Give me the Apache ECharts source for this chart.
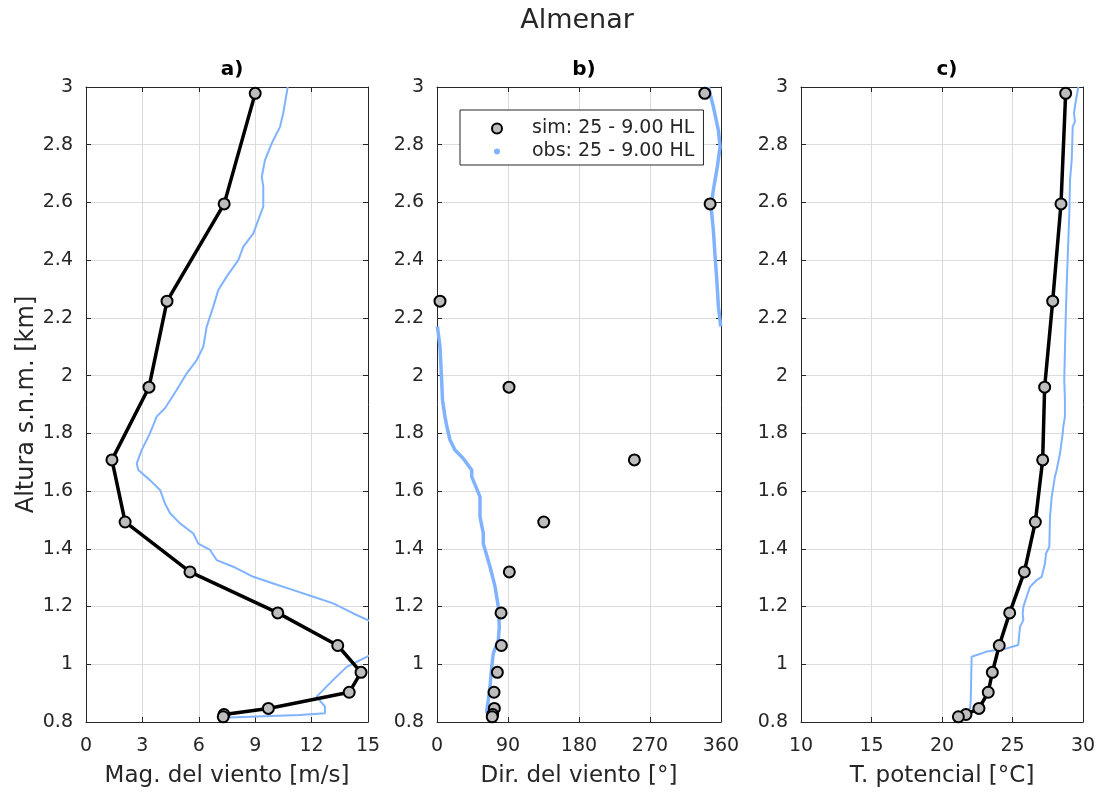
<!DOCTYPE html>
<html>
<head>
<meta charset="utf-8">
<title>Almenar</title>
<script src="https://cdn.jsdelivr.net/npm/echarts@6/dist/echarts.min.js"></script>
<style>
  html, body { margin: 0; padding: 0; background: #fff; }
  #chart { width: 1100px; height: 793px; }
</style>
</head>
<body>
<div id="chart"></div>
<script>
// Simulated profile (model levels, km a.s.l.)
const simHeight = [2.978, 2.595, 2.258, 1.96, 1.708, 1.493, 1.32, 1.178, 1.065, 0.972, 0.903, 0.847, 0.826, 0.818];
const simSpeed  = [9.0, 7.35, 4.31, 3.35, 1.38, 2.08, 5.53, 10.2, 13.39, 14.63, 14.0, 9.7, 7.34, 7.3];
const simDir    = [339.4, 346.2, 3.8, 91.3, 250.2, 135.3, 91.7, 81.2, 81.6, 76.5, 72.3, 72.7, 70.6, 70.0];
const simTheta  = [28.77, 28.44, 27.85, 27.28, 27.14, 26.62, 25.84, 24.8, 24.06, 23.57, 23.28, 22.62, 21.7, 21.16];

// Observed sounding: wind speed
const obsSpeedHeight = [3.0, 2.909, 2.862, 2.805, 2.747, 2.689, 2.655, 2.586, 2.539, 2.493, 2.447, 2.40, 2.343, 2.297,
  2.239, 2.17, 2.10, 2.054, 2.008, 1.95, 1.887, 1.858, 1.80, 1.742, 1.696, 1.673, 1.638, 1.604, 1.557, 1.523, 1.488,
  1.453, 1.418, 1.396, 1.361, 1.338, 1.303, 1.28, 1.257, 1.234, 1.211, 1.176, 1.151, 1.12, 1.08, 1.045, 1.026, 0.991,
  0.946, 0.888, 0.853, 0.830, 0.824, 0.818, 0.816];
const obsSpeed = [10.73, 10.49, 10.32, 9.88, 9.52, 9.35, 9.43, 9.43, 9.16, 8.90, 8.37, 8.10, 7.48, 7.04,
  6.77, 6.42, 6.24, 5.89, 5.36, 4.82, 4.20, 3.76, 3.40, 2.96, 2.70, 2.78, 3.40, 3.94, 4.20, 4.47, 5.0,
  5.71, 5.97, 6.60, 6.95, 7.83, 8.90, 9.96, 11.03, 12.09, 13.15, 14.22, 15.05, 15.8, 16.0, 15.5, 14.93, 13.87,
  13.15, 12.27, 12.71, 12.71, 11.38, 8.72, 7.66];

// Observed sounding: wind direction (split where it wraps through north)
const obsDirUpperHeight = [3.0, 2.932, 2.85, 2.793, 2.724, 2.643, 2.586, 2.505, 2.412, 2.331, 2.239, 2.17];
const obsDirUpper       = [344, 350.3, 356.7, 358.8, 355.4, 350.3, 347.4, 350.3, 352.5, 354.7, 356.7, 359.7];
const obsDirLowerHeight = [2.17, 2.10, 2.008, 1.915, 1.858, 1.823, 1.777, 1.742, 1.713, 1.673, 1.65, 1.58, 1.511,
  1.453, 1.418, 1.338, 1.27, 1.199, 1.13, 1.084, 1.038, 0.992, 0.922, 0.876, 0.836, 0.824];
const obsDirLower       = [0.5, 3.8, 5.5, 7.0, 10.1, 12.5, 16.5, 22.8, 33.3, 44, 44, 54.5, 54.5,
  58.7, 58.7, 67.2, 73.5, 77.7, 79, 77.7, 71.4, 69.4, 67.2, 65, 63, 65];

// Observed sounding: potential temperature
const obsThetaHeight = [3.0, 2.955, 2.909, 2.88, 2.862, 2.747, 2.678, 2.562, 2.47, 2.308, 2.193, 2.089, 1.985, 1.915,
  1.858, 1.823, 1.80, 1.731, 1.673, 1.65, 1.58, 1.511, 1.407, 1.384, 1.349, 1.303, 1.292, 1.268, 1.234, 1.199,
  1.176, 1.153, 1.13, 1.067, 1.055, 1.044, 1.026, 0.876, 0.847, 0.818];
const obsTheta = [29.67, 29.5, 29.36, 29.43, 29.27, 29.2, 29.08, 29.03, 28.96, 28.84, 28.77, 28.72, 28.67, 28.72,
  28.72, 28.6, 28.56, 28.37, 28.13, 28.01, 27.78, 27.66, 27.61, 27.38, 27.3, 27.07, 26.72, 26.24, 26.0, 25.77,
  25.72, 25.77, 25.53, 25.41, 24.59, 23.17, 22.1, 22.04, 21.99, 21.51];

// Axis ticks
const heightTicks = { min: 0.8, max: 3, interval: 0.2 };
const speedTicks  = { min: 0, max: 15, interval: 3 };
const dirTicks    = { min: 0, max: 360, interval: 90 };
const thetaTicks  = { min: 10, max: 30, interval: 5 };

const panelTitles = ['a)', 'b)', 'c)'];
const xNames = ['Mag. del viento [m/s]', 'Dir. del viento [°]', 'T. potencial [°C]'];
const yName = 'Altura s.n.m. [km]';
const simName = 'sim: 25 - 9.00 HL';
const obsName = 'obs: 25 - 9.00 HL';

const pair = (xs, ys) => xs.map((x, i) => [x, ys[i]]);

const FONT = 'DejaVu Sans';
const INK = '#262626';
const OBS_BLUE = '#80b3ff';
const MARK_FILL = '#bdbdbd';

const grids = [
  { left: 86, top: 87, width: 282, height: 635 },
  { left: 437, top: 87, width: 284, height: 635 },
  { left: 801, top: 87, width: 282, height: 635 }
];
const xTicks = [speedTicks, dirTicks, thetaTicks];

const xAxes = [], yAxes = [];
grids.forEach((g, i) => {
  xAxes.push({
    type: 'value', gridIndex: i, position: 'bottom',
    min: xTicks[i].min, max: xTicks[i].max, interval: xTicks[i].interval,
    name: xNames[i], nameLocation: 'middle', nameGap: 43,
    nameTextStyle: { fontSize: 23, color: INK, fontFamily: FONT },
    axisLine: { show: true, onZero: false, lineStyle: { color: INK, width: 1 } },
    axisTick: { show: true, inside: true, length: 5, lineStyle: { color: INK } },
    axisLabel: { fontSize: 19, color: INK, fontFamily: FONT, margin: 15 },
    splitLine: { show: true, lineStyle: { color: '#dcdcdc', width: 1 } }
  });
  xAxes.push({
    type: 'value', gridIndex: i, position: 'top',
    min: xTicks[i].min, max: xTicks[i].max, interval: xTicks[i].interval,
    axisLine: { show: true, onZero: false, lineStyle: { color: INK, width: 1 } },
    axisTick: { show: true, inside: true, length: 5, lineStyle: { color: INK } },
    axisLabel: { show: false }, splitLine: { show: false }
  });
  yAxes.push({
    type: 'value', gridIndex: i, position: 'left',
    min: heightTicks.min, max: heightTicks.max, interval: heightTicks.interval,
    name: i === 0 ? yName : '', nameLocation: 'middle', nameGap: 45, nameRotate: 90,
    nameTextStyle: { fontSize: 24, color: INK, fontFamily: FONT },
    axisLine: { show: true, onZero: false, lineStyle: { color: INK, width: 1 } },
    axisTick: { show: true, inside: true, length: 5, lineStyle: { color: INK } },
    axisLabel: { fontSize: 19, color: INK, fontFamily: FONT, margin: 13 },
    splitLine: { show: true, lineStyle: { color: '#dcdcdc', width: 1 } }
  });
  yAxes.push({
    type: 'value', gridIndex: i, position: 'right',
    min: heightTicks.min, max: heightTicks.max, interval: heightTicks.interval,
    axisLine: { show: true, onZero: false, lineStyle: { color: INK, width: 1 } },
    axisTick: { show: true, inside: true, length: 5, lineStyle: { color: INK } },
    axisLabel: { show: false }, splitLine: { show: false }
  });
});

const simMarker = { color: MARK_FILL, borderColor: '#000', borderWidth: 2 };

function obsLine(i, data, width) {
  return {
    name: obsName, type: 'line', xAxisIndex: 2 * i, yAxisIndex: 2 * i,
    data, showSymbol: false, symbol: 'none', clip: true, z: 2,
    lineStyle: { color: OBS_BLUE, width }, itemStyle: { color: OBS_BLUE },
    animation: false
  };
}
function simLine(i, data, withLine) {
  return {
    name: simName, type: 'line', xAxisIndex: 2 * i, yAxisIndex: 2 * i,
    data, symbol: 'circle', symbolSize: 11, showAllSymbol: true, clip: false, z: 4,
    lineStyle: withLine ? { color: '#000', width: 3.5 } : { width: 0, opacity: 0 },
    itemStyle: simMarker, animation: false
  };
}

const series = [
  obsLine(0, pair(obsSpeed, obsSpeedHeight), 2),
  simLine(0, pair(simSpeed, simHeight), true),
  obsLine(1, pair(obsDirUpper, obsDirUpperHeight), 3.5),
  obsLine(1, pair(obsDirLower, obsDirLowerHeight), 3.5),
  simLine(1, pair(simDir, simHeight), false),
  obsLine(2, pair(obsTheta, obsThetaHeight), 2),
  simLine(2, pair(simTheta, simHeight), true)
];

const titles = [{
  text: 'Almenar', left: 572, top: 2, textAlign: 'center',
  textStyle: { fontSize: 27, fontWeight: 'normal', color: INK, fontFamily: FONT }
}];
grids.forEach((g, i) => {
  titles.push({
    text: panelTitles[i], left: g.left + g.width / 2, top: 55, textAlign: 'center',
    textStyle: { fontSize: 20, fontWeight: 'bold', color: '#000', fontFamily: FONT }
  });
});

const chart = echarts.init(document.getElementById('chart'), null, { renderer: 'canvas' });
chart.setOption({
  animation: false,
  backgroundColor: '#fff',
  textStyle: { fontFamily: FONT, color: INK },
  title: titles,
  grid: grids,
  xAxis: xAxes,
  yAxis: yAxes,
  legend: {
    left: 460, top: 110, orient: 'vertical',
    backgroundColor: '#fff', borderColor: INK, borderWidth: 1,
    padding: [9, 9, 4, 30], itemGap: 4, itemWidth: 60, itemHeight: 10,
    textStyle: { fontSize: 19, color: INK, fontFamily: FONT },
    selectedMode: false,
    data: [
      { name: simName, icon: 'circle', itemStyle: { color: MARK_FILL, borderColor: '#000', borderWidth: 2 } },
      { name: obsName, icon: 'circle', itemStyle: { color: OBS_BLUE, borderColor: '#fff', borderWidth: 4 } }
    ]
  },
  series
});
</script>
</body>
</html>
